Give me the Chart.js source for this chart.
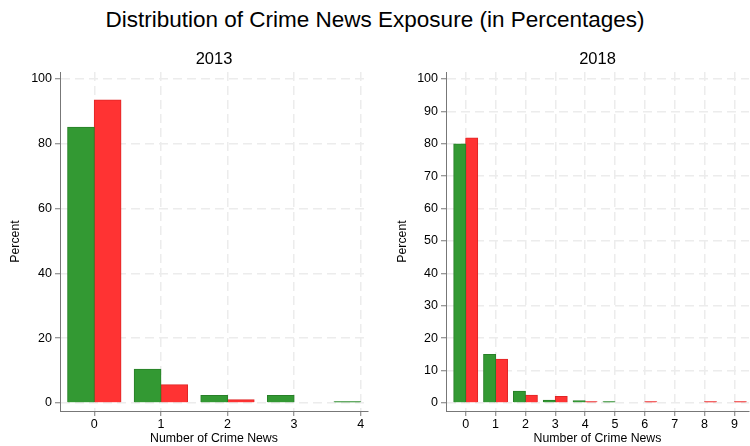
<!DOCTYPE html>
<html>
<head>
<meta charset="utf-8">
<script src="https://cdn.jsdelivr.net/npm/chart.js@4"></script>
<style>
  html, body { margin: 0; padding: 0; background: #fff; }
  body { width: 750px; height: 446px; position: relative; overflow: hidden; }
  #title {
    position: absolute; left: 0; top: 0; width: 750px; height: 40px;
    line-height: 40px; text-align: center;
    font-family: "Liberation Sans", Arial, sans-serif; font-size: 22.5px; color: #000;
  }
  .panel { position: absolute; top: 40px; width: 375px; height: 406px; }
  #p2013 { left: 0; }
  #p2018 { left: 375px; }
</style>
</head>
<body>
<div id="title">Distribution of Crime News Exposure (in Percentages)</div>
<div class="panel" id="p2013"><canvas id="c2013"></canvas></div>
<div class="panel" id="p2018"><canvas id="c2018"></canvas></div>
<script>
// Number of crime news items seen, per survey year
const counts2013 = [0, 1, 2, 3, 4];
const green2013 = [85.1, 10.4, 2.3, 2.3, 0.4];
const red2013   = [93.5, 5.6, 1.0, null, null];
const yTicks2013 = [0, 20, 40, 60, 80, 100];

const counts2018 = [0, 1, 2, 3, 4, 5, 6, 7, 8, 9];
const green2018 = [79.9, 15.0, 3.6, 0.85, 0.7, 0.4, null, null, null, null];
const red2018   = [81.8, 13.5, 2.4, 2.0, 0.4, null, 0.4, null, 0.4, 0.4];
const yTicks2018 = [0, 10, 20, 30, 40, 50, 60, 70, 80, 90, 100];

const GREEN = 'rgb(51,153,51)';
const GREEN_EDGE = 'rgb(40,128,40)';
const RED = 'rgb(255,51,51)';
const RED_EDGE = 'rgb(224,38,38)';
const FONT = '"Liberation Sans", Arial, sans-serif';

Chart.defaults.font.family = FONT;
Chart.defaults.color = '#000';

function points(xs, ys) {
  return xs.map((x, i) => ({ x: x, y: ys[i] }));
}

function makePanel(canvasId, year, xs, greens, reds, yTicks, opts) {
  const gridStyle = {
    color: '#ececec',
    lineWidth: 1.5,
    drawTicks: true,
    tickLength: 5,
    tickColor: '#777',
    tickWidth: 1,
    tickBorderDash: [],
    offset: false
  };
  const borderStyle = { display: true, color: '#777', width: 1, dash: [9, 5] };
  return new Chart(document.getElementById(canvasId), {
    type: 'bar',
    data: {
      datasets: [
        { data: points(xs, greens), backgroundColor: GREEN, borderColor: GREEN_EDGE, borderWidth: 1, inflateAmount: 0.5 },
        { data: points(xs, reds), backgroundColor: RED, borderColor: RED_EDGE, borderWidth: 1, inflateAmount: 0.5 }
      ]
    },
    options: {
      responsive: false,
      animation: false,
      devicePixelRatio: 1,
      layout: { padding: { left: 0, right: opts.padRight, top: 0, bottom: 0 } },
      datasets: { bar: { categoryPercentage: 0.8, barPercentage: 1.0, grouped: true } },
      plugins: {
        legend: { display: false },
        tooltip: { enabled: false },
        title: {
          display: true,
          text: year,
          fullSize: false,
          font: { size: 16.5, weight: 'normal', family: FONT },
          color: '#000',
          padding: { top: 10, bottom: 2.2 }
        }
      },
      scales: {
        x: {
          type: 'linear',
          min: opts.xMin,
          max: opts.xMax,
          offset: false,
          grid: gridStyle,
          border: borderStyle,
          ticks: { font: { size: 12.5 }, padding: 1, color: '#000' },
          afterBuildTicks: (s) => { s.ticks = xs.map(v => ({ value: v })); },
          afterFit: (s) => { s.height = 35; },
          title: {
            display: true,
            text: 'Number of Crime News',
            font: { size: 12.3 },
            color: '#000',
            padding: { top: 0, bottom: 0 }
          }
        },
        y: {
          type: 'linear',
          min: -2.47,
          max: 102.16,
          grid: gridStyle,
          border: borderStyle,
          ticks: { font: { size: 12.5 }, padding: 3, color: '#000' },
          afterBuildTicks: (s) => { s.ticks = yTicks.map(v => ({ value: v })); },
          afterFit: (s) => { s.width = opts.yWidth; },
          title: {
            display: true,
            text: 'Percent',
            font: { size: 12.3 },
            color: '#000',
            padding: { top: opts.yTitlePad, bottom: 0 }
          }
        }
      }
    }
  });
}

function sizeCanvas(id) {
  const c = document.getElementById(id);
  c.width = 375; c.height = 406;
  c.style.width = '375px'; c.style.height = '406px';
}
sizeCanvas('c2013');
sizeCanvas('c2018');

makePanel('c2013', '2013', counts2013, green2013, red2013, yTicks2013,
  { xMin: -0.515, xMax: 4.11, padRight: 7, yWidth: 60, yTitlePad: 8 });
makePanel('c2018', '2018', counts2018, green2018, red2018, yTicks2018,
  { xMin: -0.66, xMax: 9.49, padRight: 1, yWidth: 71, yTitlePad: 20 });
</script>
</body>
</html>
